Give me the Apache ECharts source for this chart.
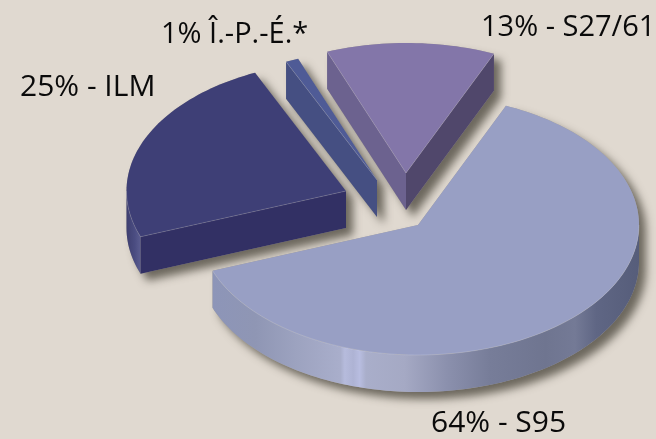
<!DOCTYPE html>
<html><head><meta charset="utf-8">
<style>html,body{margin:0;padding:0;background:#e0d9d0}#c{width:656px;height:439px}</style>
<script src="https://cdn.jsdelivr.net/npm/echarts@6/dist/echarts.min.js"></script>
</head><body><div id="c"></div>
<script>
// Data (the printed percentages add to 103; slices are proportional to the total)
var categories = ['S95', 'ILM', 'Î.-P.-É.*', 'S27/61'];
var values = [64, 25, 1, 13];
var labels = ['64% - S95', '25% - ILM', '1% Î.-P.-É.*', '13% - S27/61'];

// Layout and style
var startAngle = -65.4, rxRight = 221, rxLeft = 219.5, ry = 130, depth = 37;
var apexes = [[418, 225], [346, 191], [377, 180], [406, 173]];
var labelPos = [[431, 423], [20, 87], [161, 35], [481, 28]];
var labelSizes = [30, 30, 29, 29];
var topColors = ['#989fc4', '#3e3f76', '#4f5b96', '#8376a9'];
var startCutColors = [null, '#323064', '#454f82', '#6c628f'];
var endCutColors = [null, null, null, '#50476b'];
var arcStops = [
  [0, '#8d95b8'], [0.1, '#8f96b4'], [0.2, '#9da3c0'], [0.3, '#a9aecb'], [0.31, '#b6bbdc'], [0.33, '#aeb3d4'],
  [0.345, '#b8bde0'], [0.36, '#a9aeca'], [0.45, '#a5a9c4'], [0.55, '#8b90ad'], [0.65, '#777d99'],
  [0.78, '#6f7590'], [0.85, '#747a96'], [0.9, '#5f6684'], [1, '#565d7a']
];
var arcStopsSmall = [[0, '#3e3f70'], [0.6, '#4b4d82'], [1, '#5b5d90']];

var total = values.reduce(function (a, b) { return a + b; }, 0);

// small correction for the view's perspective on the pie plane
function view(t) {
  return t + 1.3 * Math.cos((t - 158) * Math.PI / 180) - 0.2;
}
function pt(c, t, dy) {
  var r = t * Math.PI / 180, co = Math.cos(r);
  return [c[0] + (co < 0 ? rxLeft : rxRight) * co, c[1] + ry * Math.sin(r) + (dy || 0)];
}
function arc(c, a, b, dy) {
  var out = [], n = Math.max(2, Math.ceil(Math.abs(b - a) / 1.5));
  for (var i = 0; i <= n; i++) out.push(pt(c, a + (b - a) * i / n, dy));
  return out;
}
function silhouette(poly) {
  var l = 0, r = 0, n = poly.length, out = [], i;
  for (i = 0; i < n; i++) {
    if (poly[i][0] < poly[l][0]) l = i;
    if (poly[i][0] > poly[r][0]) r = i;
  }
  for (i = l; i !== r; i = (i + 1) % n) out.push(poly[i]);
  out.push(poly[r]);
  for (i = r; i !== l; i = (i + 1) % n) out.push([poly[i][0], poly[i][1] + depth]);
  out.push([poly[l][0], poly[l][1] + depth]);
  return out;
}
function wall(p, q) {
  return [p, q, [q[0], q[1] + depth], [p[0], p[1] + depth]];
}
function edge(points) {
  return { type: 'polyline', z2: 11, shape: { points: points },
    style: { fill: null, stroke: 'rgba(255,255,255,0.16)', lineWidth: 1 } };
}

function renderItem(params, api) {
  var i = api.value(0), before = 0;
  for (var k = 0; k < i; k++) before += values[k];
  var a0 = startAngle + before / total * 360;
  var a = view(a0);
  var b = view(a0 + api.value(1) / total * 360);
  var c = apexes[i];
  var poly = [c].concat(arc(c, a, b));
  var kids = [];
  kids.push({
    type: 'polygon', z2: 1, shape: { points: silhouette(poly) },
    style: { fill: '#a8a196', shadowBlur: 9, shadowOffsetX: 7, shadowOffsetY: 7, shadowColor: 'rgba(70,65,55,0.75)' }
  });
  // outer rim: visible only on the near half of the ellipse
  var s = Math.max(a, 0), e = Math.min(b, 180);
  if (e > s) {
    var up = arc(c, s, e), low = arc(c, e, s, depth);
    kids.push({
      type: 'polygon', z2: 5, shape: { points: up.concat(low) },
      style: { fill: { type: 'linear', x: 0, y: 0, x2: 1, y2: 0,
        colorStops: (i === 0 ? arcStops : arcStopsSmall).map(function (o) { return { offset: o[0], color: o[1] }; }) } }
    });
    kids.push(edge(up));
  }
  if (startCutColors[i]) {
    kids.push({ type: 'polygon', z2: 6, shape: { points: wall(c, pt(c, a)) }, style: { fill: startCutColors[i] } });
    kids.push(edge([c, pt(c, a)]));
  }
  if (endCutColors[i]) {
    kids.push({ type: 'polygon', z2: 6, shape: { points: wall(c, pt(c, b)) }, style: { fill: endCutColors[i] } });
    kids.push(edge([c, pt(c, b)]));
  }
  kids.push({ type: 'polygon', z2: 10, shape: { points: poly }, style: { fill: topColors[i] } });
  kids.push({
    type: 'text', z2: 20, x: labelPos[i][0], y: labelPos[i][1],
    style: { text: labels[i], fill: '#0a0a0a', font: labelSizes[i] + 'px "Open Sans"', textVerticalAlign: 'middle' }
  });
  return { type: 'group', children: kids };
}

var chart = echarts.init(document.getElementById('c'));
chart.setOption({
  animation: false,
  backgroundColor: '#e0d9d0',
  series: [{
    type: 'custom', coordinateSystem: 'none', renderItem: renderItem,
    data: values.map(function (v, i) { return { name: categories[i], value: [i, v] }; })
  }]
});
</script></body></html>
